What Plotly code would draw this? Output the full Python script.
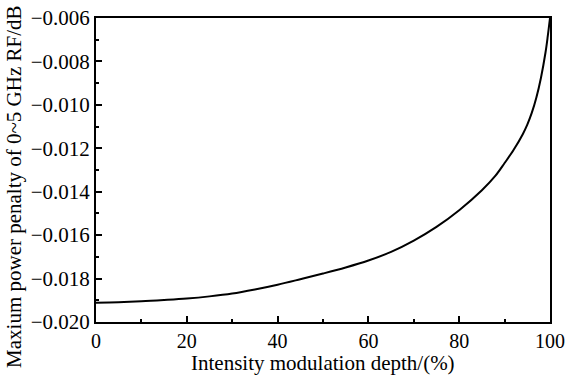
import plotly.graph_objects as go

depth = [0, 5, 10, 15, 20, 25, 30, 35, 40, 45, 50, 55, 60, 65, 70, 75, 80, 85, 88, 90, 92, 94, 95, 96, 97, 98, 99, 99.5, 100]
penalty = [-0.01911, -0.01909, -0.01905, -0.01899, -0.01892, -0.01882, -0.01869, -0.01850, -0.01828, -0.01803,
           -0.01777, -0.01749, -0.01717, -0.01677, -0.01625, -0.01562, -0.01485, -0.01393, -0.01326, -0.01268,
           -0.01207, -0.01135, -0.01091, -0.01036, -0.00966, -0.00876, -0.00760, -0.00685, -0.00600]

x_title = "Intensity modulation depth/(%)"
y_title = "Maxium power penalty of 0~5 GHz RF/dB"

font_family = "Liberation Serif, Times New Roman, serif"

fig = go.Figure()
fig.add_trace(go.Scatter(x=depth, y=penalty, mode="lines",
                         line=dict(color="black", width=2, shape="spline", smoothing=1.0),
                         showlegend=False, hoverinfo="skip"))

axis_common = dict(showline=True, linecolor="black", linewidth=2, mirror=True,
                   ticks="inside", ticklen=6, tickwidth=1.5, tickcolor="black",
                   showgrid=False, zeroline=False, automargin=False,
                   ticklabeloverflow="allow")

fig.update_xaxes(range=[0, 100], dtick=20, tick0=0,
                 tickfont=dict(family=font_family, size=20, color="black"),
                 minor=dict(ticks="inside", ticklen=3, tickwidth=1.5, tickcolor="black", dtick=10),
                 **axis_common)
fig.update_yaxes(range=[-0.020, -0.006], dtick=0.002, tick0=-0.020, tickformat=".3f",
                 tickfont=dict(family=font_family, size=21, color="black"),
                 minor=dict(ticks="inside", ticklen=3, tickwidth=1.5, tickcolor="black", dtick=0.001),
                 **axis_common)

fig.add_annotation(text=x_title, xref="paper", yref="paper",
                   x=0.5, y=-0.09, xanchor="center", yanchor="top", showarrow=False,
                   font=dict(family=font_family, size=21, color="black"))
fig.add_annotation(text=y_title, textangle=-90, xref="paper", yref="paper",
                   x=-0.181, y=0.447, xanchor="center", yanchor="middle", showarrow=False,
                   font=dict(family=font_family, size=21, color="black"))

fig.update_layout(width=565, height=378, margin=dict(l=96, r=15, t=18, b=56),
                  paper_bgcolor="white", plot_bgcolor="white")

fig.write_html("out.html", config={"displayModeBar": False},
               post_script="document.body.style.margin='0';")
